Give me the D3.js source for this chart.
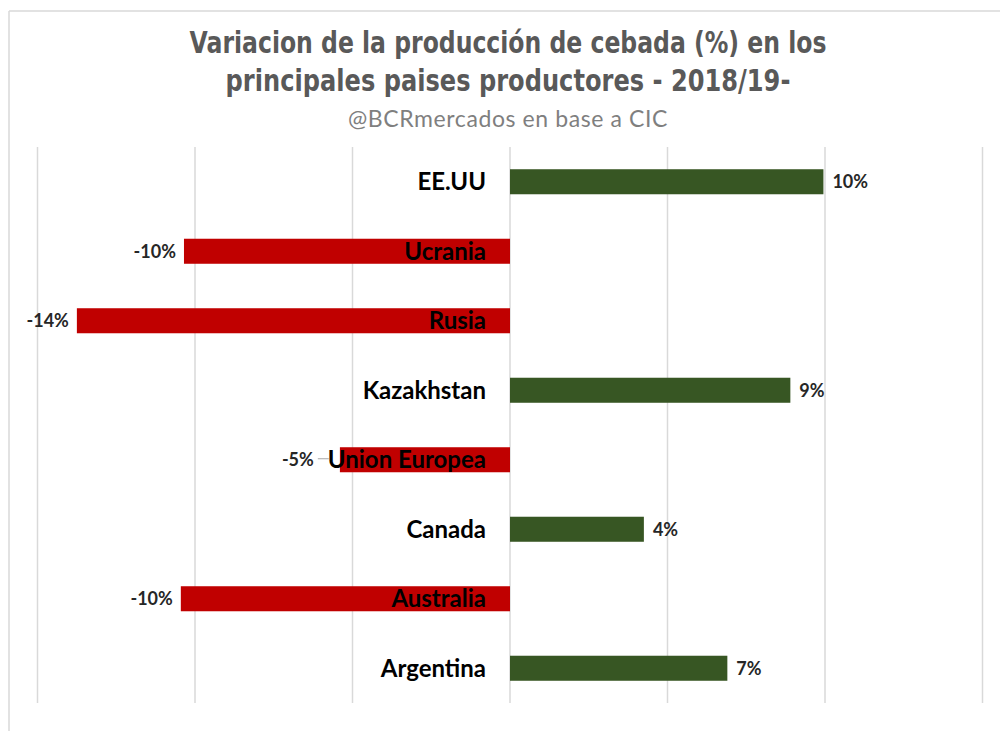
<!DOCTYPE html>
<html>
<head>
<meta charset="utf-8">
<script src="https://cdn.jsdelivr.net/npm/d3@7"></script>
<style>
  body { margin: 0; background: #fff; }
  svg { display: block; }
</style>
</head>
<body>
<svg width="1000" height="731"></svg>
<script>
// Chart data
const countries = ["EE.UU", "Ucrania", "Rusia", "Kazakhstan", "Union Europea", "Canada", "Australia", "Argentina"];
const changes = [9.95, -10.35, -13.75, 8.9, -5.4, 4.25, -10.45, 6.9];
const gridTicks = [-15, -10, -5, 0, 5, 10, 15];
const titleLines = ["Variacion de la producción de cebada (%) en los", "principales paises productores - 2018/19-"];
const subtitle = "@BCRmercados en base a CIC";

const svg = d3.select("svg");

// Excel-style chart frame (top and left edges visible)
svg.append("line").attr("x1", 9).attr("x2", 1000).attr("y1", 11).attr("y2", 11)
  .attr("stroke", "#d9d9d9").attr("stroke-width", 1.5);
svg.append("line").attr("x1", 9).attr("x2", 9).attr("y1", 11).attr("y2", 731)
  .attr("stroke", "#d9d9d9").attr("stroke-width", 1.5);

// Titles: no condensed font installed, so squeeze DejaVu Bold horizontally
const titleWidths = [637, 565];
svg.append("g").selectAll("text")
  .data(titleLines)
  .enter()
  .append("text")
  .attr("x", 0)
  .attr("y", 0)
  .attr("text-anchor", "middle")
  .attr("font-family", "'DejaVu Sans', sans-serif")
  .attr("font-weight", "bold")
  .attr("font-size", 31)
  .attr("fill", "#595959")
  .text(d => d)
  .attr("transform", function(d, i) {
    const sx = titleWidths[i] / this.getComputedTextLength();
    return `translate(508,${53 + i * 38}) scale(${sx},1)`;
  });

svg.append("text")
  .attr("x", 508)
  .attr("y", 127)
  .attr("text-anchor", "middle")
  .attr("font-family", "Lato, sans-serif")
  .attr("font-size", 23)
  .attr("letter-spacing", 0.6)
  .attr("fill", "#7f7f7f")
  .text(subtitle);

// Scales
const x = d3.scaleLinear().domain([-15, 15]).range([37.5, 982.5]);
const y = d3.scaleBand().domain(countries).range([147, 703])
  .paddingInner(0.64).paddingOuter(0.32);

// Vertical gridlines
svg.append("g").selectAll("line")
  .data(gridTicks)
  .enter()
  .append("line")
  .attr("x1", d => x(d)).attr("x2", d => x(d))
  .attr("y1", 147).attr("y2", 703)
  .attr("stroke", "#d9d9d9")
  .attr("stroke-width", 1.5);

const rows = countries.map((c, i) => ({ name: c, value: changes[i] }));

// Bars
svg.append("g").selectAll("rect")
  .data(rows)
  .enter()
  .append("rect")
  .attr("x", d => x(Math.min(0, d.value)))
  .attr("width", d => Math.abs(x(d.value) - x(0)))
  .attr("y", d => y(d.name))
  .attr("height", y.bandwidth())
  .attr("fill", d => d.value < 0 ? "#c00000" : "#375623");

// Category labels, right-aligned just left of zero line
const catLabels = svg.append("g").selectAll("text")
  .data(rows)
  .enter()
  .append("text")
  .attr("x", x(0) - 24)
  .attr("y", d => y(d.name) + y.bandwidth() / 2)
  .attr("dy", "0.36em")
  .attr("text-anchor", "end")
  .attr("font-family", "Lato, sans-serif")
  .attr("font-weight", "bold")
  .attr("font-size", 24)
  .attr("fill", "#000")
  .text(d => d.name);

// Left edge of each category label, to keep value labels clear of them
const catLeft = {};
catLabels.each(function(d) { catLeft[d.name] = this.getBBox().x; });

const pct = v => Math.round(v) + "%"; // plain hyphen for negatives, like the original

// Value labels
const valG = svg.append("g");
rows.forEach(d => {
  const cy = y(d.name) + y.bandwidth() / 2;
  let lx, anchor = "start";
  if (d.value >= 0) {
    lx = x(d.value) + 9;
  } else {
    anchor = "end";
    lx = x(d.value) - 8;
    if (lx > catLeft[d.name] - 4) {
      // label would collide with the category name: push it left, with a leader line
      lx = catLeft[d.name] - 14;
      valG.append("line")
        .attr("x1", lx + 4).attr("x2", catLeft[d.name] + 1)
        .attr("y1", cy - 1).attr("y2", cy - 1)
        .attr("stroke", "#a6a6a6").attr("stroke-width", 1);
    }
  }
  valG.append("text")
    .attr("x", lx)
    .attr("y", cy)
    .attr("dy", "0.36em")
    .attr("text-anchor", anchor)
    .attr("font-family", "Lato, sans-serif")
    .attr("font-weight", "bold")
    .attr("font-size", 18)
    .attr("fill", "#262626")
    .text(pct(d.value));
});
</script>
</body>
</html>
